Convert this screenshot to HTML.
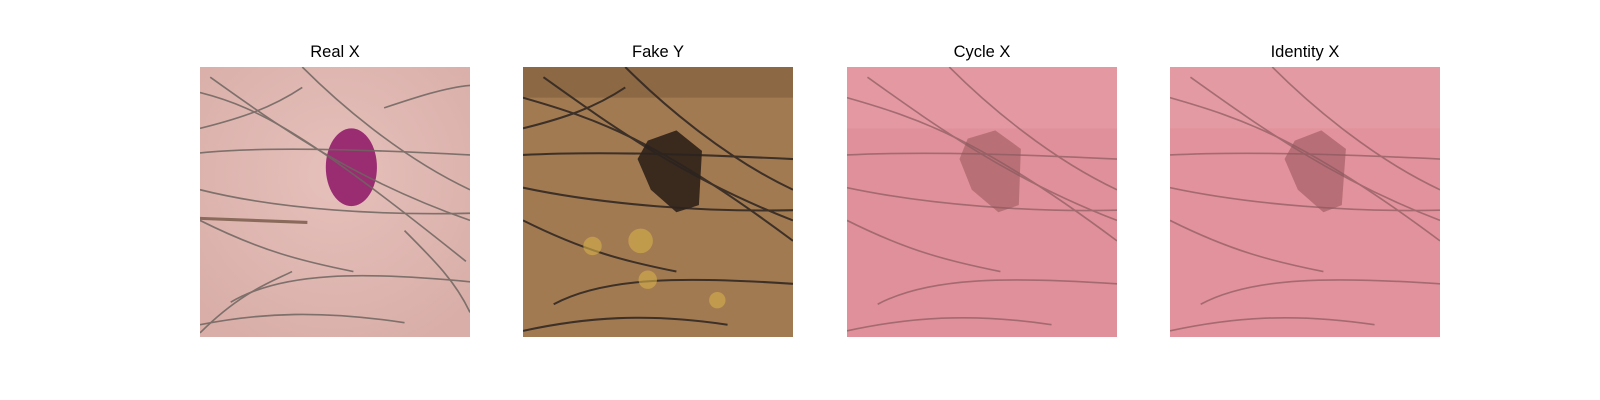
<!DOCTYPE html>
<html><head><meta charset="utf-8"><style>
body{margin:0;background:#fff;width:1600px;height:400px;overflow:hidden;font-family:"Liberation Sans","DejaVu Sans",sans-serif}
.t{position:absolute;top:43px;width:270px;text-align:center;font-size:16.5px;color:#000}
svg{position:absolute;top:67px}
</style></head><body>
<div class="t" style="left:200px">Real X</div>
<div class="t" style="left:523px">Fake Y</div>
<div class="t" style="left:847px">Cycle X</div>
<div class="t" style="left:1170px">Identity X</div>

<svg style="left:200px" width="270" height="270" viewBox="0 0 264 264" preserveAspectRatio="none">
<defs><radialGradient id="g1" cx="50%" cy="40%" r="70%"><stop offset="0" stop-color="#e6c0bb"/><stop offset="1" stop-color="#d9aea8"/></radialGradient></defs>
<rect width="264" height="264" fill="url(#g1)"/>
<ellipse cx="148" cy="98" rx="25" ry="38" fill="#9a2c72"/>
<g fill="none" stroke="#6e6560" stroke-width="1.6" opacity="0.85">
<path d="M0 84 C60 78 150 80 264 86"/><path d="M0 25 C60 40 110 70 260 190"/><path d="M10 10 C80 60 150 110 264 150"/>
<path d="M100 0 C140 40 200 90 264 120"/><path d="M0 120 C80 140 180 145 264 143"/><path d="M30 230 C80 200 160 200 264 210"/>
<path d="M0 252 C60 240 120 238 200 250"/><path d="M0 150 C60 180 100 190 150 200"/><path d="M180 40 C210 30 240 20 264 18"/>
<path d="M0 60 C40 50 70 40 100 20"/><path d="M0 260 C40 220 70 210 90 200"/><path d="M200 160 C230 190 250 210 264 240"/>
</g>
<path d="M0 148 L105 152" stroke="#8a6a5a" stroke-width="3" fill="none"/>
</svg>

<svg style="left:523px" width="270" height="270" viewBox="0 0 264 264" preserveAspectRatio="none">
<rect width="264" height="264" fill="#a27a52"/>
<rect width="264" height="30" fill="#8c6844"/>
<path d="M122 72 L150 62 L175 82 L172 135 L150 142 L125 120 L112 90 Z" fill="#3a2a1e"/>
<g fill="none" stroke="#2c2420" stroke-width="2" opacity="0.85">
<path d="M0 86 C80 82 180 86 264 90"/><path d="M0 30 C70 50 130 70 264 170"/><path d="M20 10 C90 60 160 110 264 150"/>
<path d="M100 0 C140 40 200 90 264 120"/><path d="M0 118 C80 135 180 142 264 140"/><path d="M30 232 C80 205 160 205 264 212"/>
<path d="M0 258 C60 245 120 240 200 252"/><path d="M0 150 C60 180 100 190 150 200"/><path d="M0 60 C40 50 70 40 100 20"/>
</g>
<g fill="#d6b04a" opacity="0.6"><circle cx="115" cy="170" r="12"/><circle cx="68" cy="175" r="9"/><circle cx="122" cy="208" r="9"/><circle cx="190" cy="228" r="8"/></g>
</svg>

<svg style="left:847px" width="270" height="270" viewBox="0 0 264 264" preserveAspectRatio="none">
<rect width="264" height="264" fill="#e0909a"/>
<rect width="264" height="60" fill="#e6a0a8" opacity="0.6"/>
<path d="M118 70 L145 62 L170 80 L168 135 L148 142 L122 120 L110 90 Z" fill="#b87076"/>
<g fill="none" stroke="#8a5a5e" stroke-width="1.6" opacity="0.7">
<path d="M0 86 C80 82 180 86 264 90"/><path d="M0 30 C70 50 130 70 264 170"/><path d="M20 10 C90 60 160 110 264 150"/>
<path d="M100 0 C140 40 200 90 264 120"/><path d="M0 118 C80 135 180 142 264 140"/><path d="M30 232 C80 205 160 205 264 212"/>
<path d="M0 258 C60 245 120 240 200 252"/><path d="M0 150 C60 180 100 190 150 200"/>
</g>
</svg>

<svg style="left:1170px" width="270" height="270" viewBox="0 0 264 264" preserveAspectRatio="none">
<rect width="264" height="264" fill="#e2929c"/>
<rect width="264" height="60" fill="#e6a0a8" opacity="0.6"/>
<path d="M122 72 L148 62 L172 80 L168 135 L150 142 L125 120 L112 90 Z" fill="#b86e76"/>
<g fill="none" stroke="#8a5a5e" stroke-width="1.6" opacity="0.7">
<path d="M0 86 C80 82 180 86 264 90"/><path d="M0 30 C70 50 130 70 264 170"/><path d="M20 10 C90 60 160 110 264 150"/>
<path d="M100 0 C140 40 200 90 264 120"/><path d="M0 118 C80 135 180 142 264 140"/><path d="M30 232 C80 205 160 205 264 212"/>
<path d="M0 258 C60 245 120 240 200 252"/><path d="M0 150 C60 180 100 190 150 200"/>
</g>
</svg>
</body></html>
